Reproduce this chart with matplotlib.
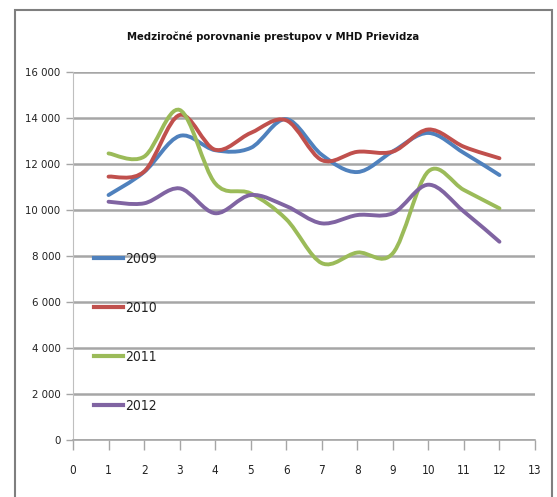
import matplotlib
matplotlib.use("Agg")
import matplotlib.pyplot as plt
import numpy as np
from matplotlib.path import Path
from matplotlib.patches import PathPatch, Rectangle
from matplotlib.lines import Line2D
from matplotlib.ticker import FuncFormatter, MultipleLocator

plt.rcParams["font.family"] = ["DejaVu Sans"]
plt.rcParams["font.stretch"] = "condensed"

# data (transfers per month)
months = [1, 2, 3, 4, 5, 6, 7, 8, 9, 10, 11, 12]
y2009 = [10650, 11650, 13220, 12600, 12700, 13950, 12400, 11650, 12550, 13350, 12480, 11520]
y2010 = [11450, 11670, 14130, 12620, 13350, 13900, 12170, 12530, 12540, 13500, 12750, 12250]
y2011 = [12460, 12320, 14350, 11160, 10720, 9600, 7690, 8150, 8120, 11680, 10870, 10070]
y2012 = [10360, 10290, 10940, 9860, 10650, 10170, 9420, 9780, 9860, 11100, 9930, 8620]
labels = ["2009", "2010", "2011", "2012"]
colors = ["#4F81BD", "#C0504D", "#9BBB59", "#8064A2"]

title = "Medziročné porovnanie prestupov v MHD Prievidza"


def smooth_path(x, y):
    # Excel-like smoothed line: cubic bezier segments (Catmull-Rom control points)
    pts = np.column_stack([x, y]).astype(float)
    n = len(pts)
    verts = [pts[0]]
    codes = [Path.MOVETO]
    for i in range(n - 1):
        p0 = pts[i - 1] if i > 0 else pts[i]
        p1 = pts[i]
        p2 = pts[i + 1]
        p3 = pts[i + 2] if i + 2 < n else pts[i + 1]
        c1 = p1 + (p2 - p0) / 6.0
        c2 = p2 - (p3 - p1) / 6.0
        verts += [c1, c2, p2]
        codes += [Path.CURVE4] * 3
    return Path(verts, codes)


fig = plt.figure(figsize=(5.57, 4.97), dpi=100)
ax = fig.add_axes([73 / 557, 1 - 440 / 497, (535 - 73) / 557, (440 - 72) / 497])

# outer frame of the chart area
fig.patches.append(Rectangle((15 / 557, -0.05), (552 - 15) / 557, 1.05 - 10 / 497,
                             transform=fig.transFigure, fill=False,
                             edgecolor="#7f7f7f", linewidth=1.5))

handles = []
for ys, lab, col in zip([y2009, y2010, y2011, y2012], labels, colors):
    ax.add_patch(PathPatch(smooth_path(months, ys), facecolor="none",
                           edgecolor=col, linewidth=2.8, capstyle="round", zorder=3))
    handles.append(Line2D([], [], color=col, linewidth=3))

ax.set_xlim(0, 13)
ax.set_ylim(0, 16000)
ax.xaxis.set_major_locator(MultipleLocator(1))
ax.yaxis.set_major_locator(MultipleLocator(2000))
ax.yaxis.set_major_formatter(FuncFormatter(lambda v, p: f"{int(v):,}".replace(",", " ")))

ax.grid(axis="y", color="#a6a6a6", linewidth=1.8, zorder=0)
ax.set_axisbelow(True)
for s in ["top", "right"]:
    ax.spines[s].set_visible(False)
ax.spines["left"].set_color("#bfbfbf")
ax.spines["bottom"].set_color("#a6a6a6")
ax.spines["bottom"].set_linewidth(1.2)
ax.tick_params(axis="x", direction="out", length=7, width=1, color="#a6a6a6",
               labelsize=8.5, pad=10, labelcolor="#222222")
ax.tick_params(axis="y", direction="out", length=5, width=1, color="#a6a6a6",
               labelsize=8.2, pad=4, labelcolor="#222222")

ax.legend(handles, labels, loc="upper left", bbox_to_anchor=(0.045, 0.51),
          frameon=False, fontsize=10, handlelength=2.1, handletextpad=0.15,
          labelspacing=2.52, borderpad=0, borderaxespad=0, labelcolor="#222222")

fig.text(0.49, 1 - 37 / 497, title, ha="center", va="center",
         fontsize=8.1, fontweight="bold", color="#111111")

fig.savefig("out.png", dpi=100)
